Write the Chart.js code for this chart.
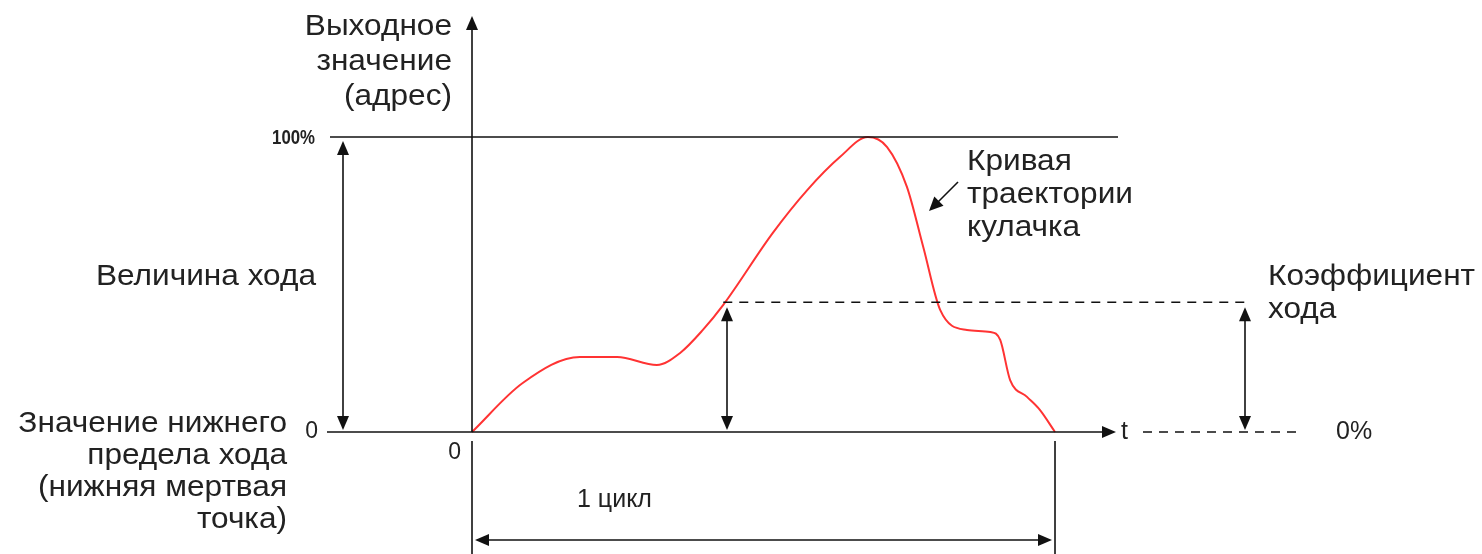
<!DOCTYPE html>
<html>
<head>
<meta charset="utf-8">
<script src="https://cdn.jsdelivr.net/npm/chart.js@4.4.1/dist/chart.umd.min.js"></script>
<style>
  body { margin: 0; background: #fff; }
  #wrap { width: 1482px; height: 554px; }
</style>
</head>
<body>
<div id="wrap"><canvas id="camChart"></canvas></div>
<script>
// time through one cycle (0..100) and output value in % of stroke
const cycleTime = [0, 8.7, 18.5, 24.9, 31.7, 35.7, 39.6, 43.1, 51.6, 57.5, 63.1, 67.9,
  71.2, 74.6, 77.4, 80.3, 84.9, 88.9, 90.6, 92.3, 95.2, 97.4, 100];
const outputValue = [0, 16.6, 25.4, 25.4, 22.7, 26.8, 34.6, 43.1, 67.5, 82.0, 93.2, 100,
  96.6, 83.1, 62.7, 41.4, 34.6, 33.9, 31.2, 17.6, 11.9, 7.5, 0];
const strokeRate = 44;
const yTickLabels = ["0", "100%"];

const FONT = "'Liberation Sans', Arial, sans-serif";

function arrowHead(ctx, x, y, angle, len = 14, half = 6) {
  ctx.save();
  ctx.translate(x, y);
  ctx.rotate(angle);
  ctx.beginPath();
  ctx.moveTo(0, 0);
  ctx.lineTo(-len, -half);
  ctx.lineTo(-len, half);
  ctx.closePath();
  ctx.fill();
  ctx.restore();
}

function line(ctx, x1, y1, x2, y2, dash) {
  ctx.save();
  ctx.setLineDash(dash || []);
  ctx.beginPath();
  ctx.moveTo(x1, y1);
  ctx.lineTo(x2, y2);
  ctx.stroke();
  ctx.restore();
}

function doubleArrowV(ctx, x, yTop, yBot) {
  line(ctx, x, yTop + 10, x, yBot - 10);
  arrowHead(ctx, x, yTop, -Math.PI / 2);
  arrowHead(ctx, x, yBot, Math.PI / 2);
}

// text with horizontal stretch (the source labels are wider than normal)
function textLines(ctx, lines, x, y, step, align, sx = 1) {
  lines.forEach((t, i) => {
    ctx.save();
    ctx.textAlign = align;
    ctx.translate(x, y + i * step);
    ctx.scale(sx, 1);
    ctx.fillText(t, 0, 0);
    ctx.restore();
  });
}

const diagram = {
  id: "diagram",
  afterDatasetsDraw(chart) {
    const ctx = chart.ctx;
    const xs = chart.scales.x, ys = chart.scales.y;
    const x0 = xs.getPixelForValue(0), x1 = xs.getPixelForValue(100);
    const y0 = ys.getPixelForValue(0), y100 = ys.getPixelForValue(100);
    const ySr = ys.getPixelForValue(strokeRate);
    const xSr = xs.getPixelForValue(43.1);

    ctx.save();
    ctx.strokeStyle = "#111";
    ctx.fillStyle = "#111";
    ctx.lineWidth = 1.6;

    // y axis with arrow
    line(ctx, x0, y0, x0, 30);
    arrowHead(ctx, x0, 16, -Math.PI / 2);
    // lower part of y axis (start of cycle)
    line(ctx, x0, y0 + 9, x0, 554);
    // cycle end marker
    line(ctx, x1, y0 + 9, x1, 554);

    // 100% line
    line(ctx, 330, y100, 1118, y100);
    // x axis
    line(ctx, 327, y0, 1105, y0);
    arrowHead(ctx, 1116, y0, 0);

    // dashed levels
    ctx.lineWidth = 1.4;
    line(ctx, xSr, ySr, 1245, ySr, [9, 7]);
    line(ctx, 1143, y0, 1300, y0, [9, 7]);
    ctx.lineWidth = 1.6;

    // stroke amount arrow
    doubleArrowV(ctx, 343, y100 + 4, y0 - 2);
    // stroke rate arrows
    doubleArrowV(ctx, 727, ySr + 5, y0 - 2);
    doubleArrowV(ctx, 1245, ySr + 5, y0 - 2);

    // 1 cycle arrow
    line(ctx, x0 + 10, 540, x1 - 10, 540);
    arrowHead(ctx, x0 + 3, 540, Math.PI);
    arrowHead(ctx, x1 - 3, 540, 0);

    // pointer to curve
    line(ctx, 958, 182, 938, 202);
    arrowHead(ctx, 929, 211, Math.atan2(29, -29), 14, 6.5);

    // texts
    ctx.fillStyle = "#222";
    ctx.textBaseline = "middle";
    ctx.font = "bold 21px " + FONT;
    textLines(ctx, [yTickLabels[1]], 315, y100 + 1, 0, "right", 0.8);

    ctx.font = "23px " + FONT;
    textLines(ctx, [yTickLabels[0]], 318, y0, 0, "right");
    textLines(ctx, ["0"], 461, 453, 0, "right");

    ctx.font = "29px " + FONT;
    const sx = 1.09;
    textLines(ctx, ["Выходное", "значение", "(адрес)"], 452, 27, 35, "right", sx);
    textLines(ctx, ["Величина хода"], 316, 277, 0, "right", sx);
    textLines(ctx, ["Значение нижнего", "предела хода", "(нижняя мертвая", "точка)"], 287, 424, 32, "right", sx);
    textLines(ctx, ["Кривая", "траектории", "кулачка"], 967, 162, 33, "left", sx);
    textLines(ctx, ["Коэффициент", "хода"], 1268, 277, 33, "left", sx);

    ctx.font = "25px " + FONT;
    textLines(ctx, ["t"], 1121, 432, 0, "left");
    textLines(ctx, ["0%"], 1336, 432, 0, "left");
    textLines(ctx, ["1 цикл"], 577, 500, 0, "left");
    ctx.restore();
  }
};

new Chart(document.getElementById("camChart"), {
  type: "line",
  data: {
    datasets: [{
      label: "Кривая траектории кулачка",
      data: cycleTime.map((t, i) => ({ x: t, y: outputValue[i] })),
      borderColor: "#ff3333",
      borderWidth: 2,
      pointRadius: 0,
      cubicInterpolationMode: "monotone",
      fill: false
    }]
  },
  options: {
    responsive: true,
    maintainAspectRatio: false,
    animation: false,
    layout: { padding: 0 },
    plugins: { legend: { display: false }, tooltip: { enabled: false } },
    scales: {
      x: { type: "linear", display: false, min: -80.96, max: 173.24 },
      y: { type: "linear", display: false, min: -41.36, max: 146.44 }
    }
  },
  plugins: [diagram]
});
</script>
</body>
</html>
